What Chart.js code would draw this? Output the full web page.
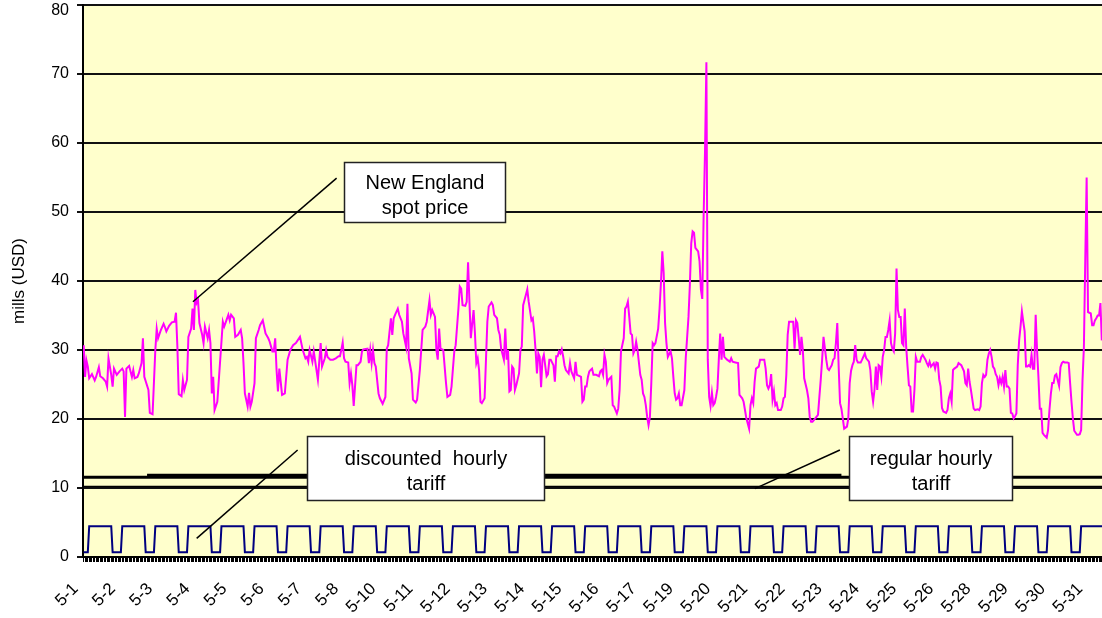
<!DOCTYPE html>
<html lang="en">
<head>
<meta charset="UTF-8">
<title>New England spot price vs hourly tariffs - May</title>
<script src="https://cdn.jsdelivr.net/npm/chart.js@4.4.1/dist/chart.umd.min.js"></script>
<style>
    html, body {
        margin: 0;
        padding: 0;
        background: #fff;
        overflow: hidden;
    }
    #wrap {
        width: 1110px;
        height: 618px;
    }
</style>
</head>
<body>
<div id="wrap"><canvas id="priceChart" width="1110" height="618"></canvas></div>
<script>
// x axis: one category per hour of May (744 hours), a label every 27 hours
const dayLabels = ['5-1', '5-2', '5-3', '5-4', '5-5', '5-6', '5-7', '5-8', '5-10', '5-11',
    '5-12', '5-13', '5-14', '5-15', '5-16', '5-17', '5-19', '5-20', '5-21', '5-22',
    '5-23', '5-24', '5-25', '5-26', '5-28', '5-29', '5-30', '5-31'];
const labelEveryHours = 27;
const hoursInMonth = 744;

// New England spot price, [hour, mills]
const spotPrice = [
    [0,30.7],[1,26.1],[2,28.5],[3,27.6],[4,25.9],[6,26.5],[8,25.6],[9,26.1],[11,27.5],[12,26.2],
    [14,25.9],[16,25.4],[17,24.7],[18,28.8],[20,26.4],[21,24.7],[22,27.3],[24,26.4],[26,26.9],[28,27.3],
    [29,26.9],[30,20.3],[31,27.3],[33,27.7],[35,26.1],[36,27.1],[37,25.9],[39,26.1],[40,26.6],[42,28.1],
    [43,31.7],[44,26.1],[47,24.2],[48,20.9],[50,20.7],[52,30.0],[53,33.1],[54,31.7],[56,32.9],[58,33.8],
    [59,33.3],[60,32.7],[62,33.5],[64,34.0],[66,34.1],[67,35.4],[68,30.5],[69,23.6],[71,23.3],[72,25.6],
    [73,24.2],[75,25.7],[76,31.9],[78,33.1],[79,36.0],[80,32.9],[81,38.7],[82,36.8],[83,37.2],[84,33.9],
    [86,32.2],[87,31.0],[88,33.4],[90,31.7],[91,32.9],[92,31.0],[93,23.7],[94,26.1],[95,21.3],[97,22.5],
    [101,34.1],[102,33.4],[105,35.1],[106,34.3],[107,35.1],[109,34.6],[110,31.9],[112,32.2],[114,32.9],[115,31.7],
    [116,28.1],[117,23.7],[119,21.8],[120,23.8],[121,21.8],[122,22.5],[124,25.2],[125,31.7],[127,32.9],[128,33.6],
    [130,34.3],[132,32.4],[134,31.7],[135,31.2],[137,29.8],[138,29.8],[139,31.7],[140,27.1],[141,24.0],[142,27.3],
    [144,23.5],[146,23.7],[148,28.6],[150,30.0],[152,30.7],[154,31.0],[157,31.9],[159,30.0],[161,28.8],[162,29.0],
    [163,28.3],[164,30.0],[166,28.3],[167,29.8],[170,25.7],[172,31.0],[173,27.6],[175,28.8],[176,30.0],[177,29.0],
    [179,28.6],[181,28.6],[183,28.8],[185,29.1],[186,29.1],[187,30.0],[188,31.1],[189,28.8],[190,28.3],[192,28.2],
    [193,25.2],[194,26.6],[195,24.9],[196,21.9],[198,27.8],[199,27.8],[201,28.3],[202,29.8],[203,30.1],[206,30.2],
    [207,28.1],[208,30.0],[209,28.1],[210,30.0],[211,28.1],[212,27.6],[214,23.7],[215,23.0],[217,22.2],[219,23.2],
    [220,30.2],[221,30.7],[223,34.6],[224,32.2],[225,34.6],[226,35.1],[228,36.0],[229,35.1],[231,34.1],[232,32.4],
    [234,30.5],[235,36.7],[236,28.8],[238,26.6],[239,22.8],[241,22.4],[242,22.8],[244,27.1],[246,32.9],[248,33.4],
    [249,34.1],[251,37.2],[252,35.1],[253,35.8],[255,34.8],[256,30.0],[257,28.6],[258,33.1],[259,30.2],[261,30.0],
    [263,25.2],[264,23.2],[266,23.5],[267,24.7],[269,29.8],[270,30.7],[272,36.0],[273,39.2],[274,38.9],[275,36.5],
    [277,36.4],[278,37.0],[279,42.7],[280,37.0],[281,31.7],[283,35.8],[284,32.4],[285,28.1],[286,28.8],[287,27.1],
    [288,22.5],[289,22.3],[291,23.0],[292,28.6],[293,34.1],[294,36.3],[296,36.9],[297,36.5],[298,35.1],[300,34.6],
    [301,32.9],[302,32.2],[303,30.2],[305,28.6],[306,33.1],[307,28.6],[308,30.0],[309,24.0],[310,24.2],[311,27.6],
    [312,27.3],[313,24.2],[314,24.9],[316,26.6],[317,30.0],[318,30.5],[319,36.5],[321,38.0],[322,38.8],[323,37.0],
    [325,34.3],[326,34.6],[327,32.7],[328,30.0],[329,26.6],[330,29.5],[331,29.0],[332,24.6],[333,28.6],[334,29.3],
    [336,26.2],[337,26.5],[338,28.6],[339,28.6],[341,27.8],[342,25.4],[343,29.1],[344,29.1],[345,29.8],[346,29.5],
    [347,30.1],[348,29.1],[349,27.8],[350,27.1],[352,26.6],[353,28.1],[354,26.9],[356,25.9],[357,28.3],[358,26.4],
    [360,26.2],[361,26.1],[362,22.5],[363,22.8],[364,24.7],[365,24.7],[366,26.1],[367,26.9],[368,27.1],[369,27.3],
    [370,26.4],[372,26.4],[374,26.2],[375,26.9],[376,27.1],[377,26.4],[378,29.3],[379,28.3],[380,25.2],[381,25.7],
    [383,26.1],[384,22.0],[385,21.8],[387,20.8],[388,21.5],[389,24.2],[390,29.8],[392,31.7],[393,36.0],[394,36.3],
    [395,37.0],[396,34.8],[397,32.4],[398,32.2],[399,29.5],[400,30.0],[401,31.2],[402,30.0],[404,26.4],[405,25.7],
    [406,23.7],[407,23.2],[408,22.0],[409,20.3],[410,19.1],[411,20.3],[412,25.2],[413,31.0],[414,30.7],[415,31.0],
    [417,33.1],[418,36.0],[419,39.7],[420,44.3],[421,41.1],[422,33.9],[423,31.0],[424,29.0],[426,29.8],[427,28.8],
    [428,26.1],[429,23.7],[430,22.8],[431,23.0],[432,23.7],[433,22.0],[434,22.0],[436,24.2],[437,28.8],[439,34.8],
    [440,39.5],[441,45.5],[442,47.2],[443,47.0],[444,44.8],[446,44.3],[447,42.9],[448,38.8],[449,37.4],[450,49.6],
    [451,58.8],[452,71.7],[453,28.6],[454,23.2],[455,21.9],[456,23.8],[457,22.0],[458,22.3],[459,23.2],[460,24.4],
    [461,28.6],[462,32.4],[463,28.6],[464,31.9],[465,29.0],[467,28.6],[469,28.3],[470,28.8],[471,28.3],[473,28.2],
    [475,28.1],[476,23.5],[478,23.0],[479,22.5],[480,21.3],[481,20.1],[483,18.6],[484,22.0],[485,23.0],[486,22.3],
    [487,25.4],[488,27.3],[490,27.6],[491,28.6],[493,28.6],[494,28.6],[495,27.3],[496,24.9],[497,24.4],[498,24.9],
    [499,26.5],[500,22.8],[501,24.0],[502,22.0],[503,22.3],[504,21.3],[506,21.3],[507,21.8],[508,23.0],[509,23.2],
    [510,26.4],[511,32.2],[512,34.1],[514,34.1],[515,34.1],[516,30.2],[517,34.3],[518,33.9],[519,31.7],[520,29.3],
    [521,31.9],[522,30.0],[523,25.9],[525,24.2],[526,23.0],[527,20.3],[528,19.6],[529,19.6],[531,20.1],[533,20.6],
    [534,23.2],[535,25.7],[536,28.6],[537,31.9],[539,28.6],[540,27.3],[541,27.1],[543,27.8],[544,28.6],[545,28.8],
    [546,31.0],[547,33.9],[548,27.6],[549,22.3],[550,21.5],[551,20.1],[552,18.6],[554,18.9],[555,20.1],[556,25.2],
    [557,27.0],[558,27.8],[559,28.3],[560,30.7],[561,28.6],[562,28.2],[564,28.2],[565,28.6],[567,29.5],[568,28.8],
    [570,28.3],[571,27.1],[572,24.0],[573,22.5],[574,24.2],[575,27.6],[576,24.2],[577,27.8],[578,27.6],[579,26.1],
    [580,29.0],[581,30.0],[582,31.9],[583,31.9],[584,32.9],[585,34.3],[586,31.0],[587,30.2],[588,29.8],[589,32.4],
    [590,41.8],[591,35.8],[592,34.8],[593,34.8],[594,31.0],[595,30.7],[596,36.0],[597,30.5],[598,27.6],[599,24.9],
    [600,24.7],[601,21.1],[602,21.1],[603,24.2],[604,29.0],[605,28.3],[607,28.3],[608,29.0],[609,29.3],[611,28.6],
    [612,28.1],[613,27.7],[614,28.3],[615,27.6],[617,28.1],[618,27.3],[619,28.2],[620,28.1],[621,25.7],[622,24.7],
    [623,21.6],[624,21.1],[626,20.9],[627,21.3],[628,23.0],[629,23.7],[630,22.5],[631,27.1],[632,27.3],[634,27.6],
    [635,28.1],[637,27.8],[639,26.9],[640,25.2],[641,24.9],[642,27.3],[643,25.4],[644,24.2],[646,21.5],[647,21.3],
    [649,21.4],[650,21.3],[651,21.8],[652,25.2],[653,26.4],[654,26.1],[655,26.4],[656,28.6],[657,29.5],[658,30.0],
    [659,29.0],[660,27.6],[661,27.3],[662,26.5],[663,26.1],[664,24.9],[665,25.9],[666,25.2],[667,26.1],[668,24.7],
    [669,27.1],[670,24.7],[671,24.7],[672,24.4],[673,20.9],[674,20.8],[675,20.1],[676,20.4],[677,20.8],[678,27.8],
    [679,31.4],[680,33.4],[681,35.6],[682,34.1],[683,32.7],[684,27.6],[685,27.6],[686,27.8],[687,27.6],[688,29.3],
    [689,27.3],[690,27.3],[691,35.1],[692,30.0],[693,26.1],[694,21.5],[695,21.5],[696,18.0],[697,17.7],[698,17.5],
    [699,17.3],[700,18.4],[701,21.3],[702,23.6],[703,25.2],[704,25.2],[705,26.3],[706,26.5],[707,25.6],[708,24.8],
    [709,27.5],[710,28.1],[711,28.3],[712,28.2],[713,28.2],[714,28.2],[715,28.1],[716,25.2],[717,22.5],[718,20.1],
    [719,18.3],[720,18.0],[721,17.7],[722,17.7],[723,17.8],[724,18.4],[725,25.6],[726,30.4],[727,43.1],[728,55.0],
    [729,35.5],[730,35.4],[731,35.3],[732,33.6],[733,33.6],[734,34.3],[735,34.6],[736,35.0],[737,35.0],[738,36.8],
    [739,31.4]
];

// discounted hourly tariff: same profile every day (hour 0..23), 31 days
const discountDayProfile = [0.7, 0.7, 0.7, 0.7,
    4.45, 4.45, 4.45, 4.45, 4.45, 4.45, 4.45, 4.45, 4.45, 4.45, 4.45, 4.45, 4.45, 4.45, 4.45, 4.45, 4.45,
    0.7, 0.7, 0.7];
const daysInMonth = 31;

// flat tariff lines
const regularTariff = 10.2;
const tariffBand = 11.55;
const tariffBandUpper = 11.9;
const bandUpperHours = [46, 550];

// callout boxes (data units): [x from, x to, y top, y bottom], leader [x1, y1, x2, y2]
const callouts = [
    { lines: ['New England', 'spot price'], box: [189, 306, 57.2, 48.6], leader: [183.6, 54.9, 79.3, 37.0] },
    { lines: ['discounted  hourly', 'tariff'], box: [162, 333.8, 17.5, 8.3], leader: [155.3, 15.5, 82.0, 2.7] },
    { lines: ['regular hourly', 'tariff'], box: [555.6, 673.6, 17.5, 8.2], leader: [548.9, 15.5, 487.2, 9.9] }
];

// build the series
const spotData = spotPrice.map(p => ({ x: p[0], y: p[1] }));

const discountData = [];
for (let d = 0; d < daysInMonth; d++) {
    discountDayProfile.forEach((v, h) => discountData.push({ x: d * 24 + h, y: v }));
}

const lastHour = hoursInMonth - 1;
const regularData = [{ x: 0, y: regularTariff }, { x: lastHour, y: regularTariff }];
const bandData = [{ x: 0, y: tariffBand }, { x: lastHour, y: tariffBand }];
const bandUpperData = bandUpperHours.map(h => ({ x: h, y: tariffBandUpper }));

const hourTicks = [];
for (let h = 0; h < hoursInMonth; h++) hourTicks.push({ value: h });

const FONT = 'Arial, "Liberation Sans", sans-serif';
const yTopValue = 80;

// pale yellow plot area
const plotBackground = {
    id: 'plotBackground',
    beforeDraw(chart) {
        const { ctx, chartArea } = chart;
        ctx.save();
        ctx.fillStyle = '#FFFFCC';
        ctx.fillRect(chartArea.left, chartArea.top, chartArea.right - chartArea.left, chartArea.bottom - chartArea.top);
        ctx.restore();
    }
};

// text boxes with leader lines, plus the top y label nudged inside the canvas
const calloutPlugin = {
    id: 'callouts',
    afterDatasetsDraw(chart) {
        const { ctx, scales } = chart;
        const px = v => scales.x.getPixelForValue(v);
        const py = v => scales.y.getPixelForValue(v);
        ctx.save();
        callouts.forEach(c => {
            ctx.strokeStyle = '#000';
            ctx.lineWidth = 1.5;
            ctx.beginPath();
            ctx.moveTo(px(c.leader[0]), py(c.leader[1]));
            ctx.lineTo(px(c.leader[2]), py(c.leader[3]));
            ctx.stroke();

            const x1 = Math.round(px(c.box[0])) + 0.5, x2 = Math.round(px(c.box[1])) + 0.5;
            const y1 = Math.round(py(c.box[2])) + 0.5, y2 = Math.round(py(c.box[3])) + 0.5;
            ctx.fillStyle = '#fff';
            ctx.fillRect(x1, y1, x2 - x1, y2 - y1);
            ctx.lineWidth = 1.5;
            ctx.strokeStyle = '#222';
            ctx.strokeRect(x1, y1, x2 - x1, y2 - y1);

            ctx.fillStyle = '#000';
            ctx.font = '20px ' + FONT;
            ctx.textAlign = 'center';
            ctx.textBaseline = 'middle';
            const cx = (x1 + x2) / 2, cy = (y1 + y2) / 2 + 3.5;
            ctx.fillText(c.lines[0], cx, cy - 12.5);
            ctx.fillText(c.lines[1], cx, cy + 12.5);
        });

        // "80" sits just below the top edge like the original
        ctx.font = '16px ' + FONT;
        ctx.textAlign = 'right';
        ctx.textBaseline = 'middle';
        ctx.fillStyle = '#000';
        ctx.fillText(String(yTopValue), scales.y.right - 14, py(yTopValue) + 6);
        ctx.restore();
    }
};

const lineStyle = { pointRadius: 0, tension: 0, fill: false };

new Chart(document.getElementById('priceChart'), {
    type: 'line',
    data: {
        datasets: [
            { ...lineStyle, label: 'New England spot price', data: spotData, borderColor: '#FF00FF', borderWidth: 2 },
            { ...lineStyle, label: 'discounted hourly tariff', data: discountData, borderColor: '#000080', borderWidth: 2 },
            { ...lineStyle, label: 'regular hourly tariff', data: regularData, borderColor: '#000', borderWidth: 1.5 },
            { ...lineStyle, label: 'tariff band', data: bandData, borderColor: '#000', borderWidth: 3 },
            { ...lineStyle, label: 'tariff band upper', data: bandUpperData, borderColor: '#000', borderWidth: 2.5 }
        ]
    },
    options: {
        responsive: false,
        animation: false,
        events: [],
        layout: { padding: { top: 5, right: 2, left: 0, bottom: 0 } },
        plugins: {
            legend: { display: false },
            tooltip: { enabled: false }
        },
        scales: {
            x: {
                type: 'linear',
                min: -0.5,
                max: hoursInMonth - 0.5,
                afterBuildTicks: scale => { scale.ticks = hourTicks.map(t => ({ value: t.value })); },
                ticks: {
                    autoSkip: false,
                    minRotation: 45,
                    maxRotation: 45,
                    padding: 17,
                    labelOffset: -8,
                    color: '#000',
                    font: { family: FONT, size: 17 },
                    callback: v => (v % labelEveryHours === 0 && dayLabels[v / labelEveryHours]) || ''
                },
                grid: { drawOnChartArea: false, drawTicks: true, tickLength: 5, color: '#000', lineWidth: 1 },
                border: { color: '#000', width: 2 },
                afterFit: scale => {
                    scale.height = 61;
                    scale.paddingLeft = 0;
                    scale.paddingRight = 0;
                }
            },
            y: {
                min: 0,
                max: yTopValue,
                ticks: {
                    stepSize: 10,
                    padding: 8,
                    color: '#000',
                    font: { family: FONT, size: 16 },
                    callback: v => (v === yTopValue ? '' : String(v))
                },
                grid: { color: '#111', lineWidth: 2, tickLength: 6 },
                border: { color: '#000', width: 2 },
                title: {
                    display: true,
                    text: 'mills (USD)',
                    color: '#000',
                    font: { family: FONT, size: 17 },
                    padding: { top: 9, bottom: 0 }
                },
                afterFit: scale => {
                    scale.width = 83;
                    scale.paddingTop = 0;
                    scale.paddingBottom = 0;
                }
            }
        }
    },
    plugins: [plotBackground, calloutPlugin]
});
</script>
</body>
</html>
